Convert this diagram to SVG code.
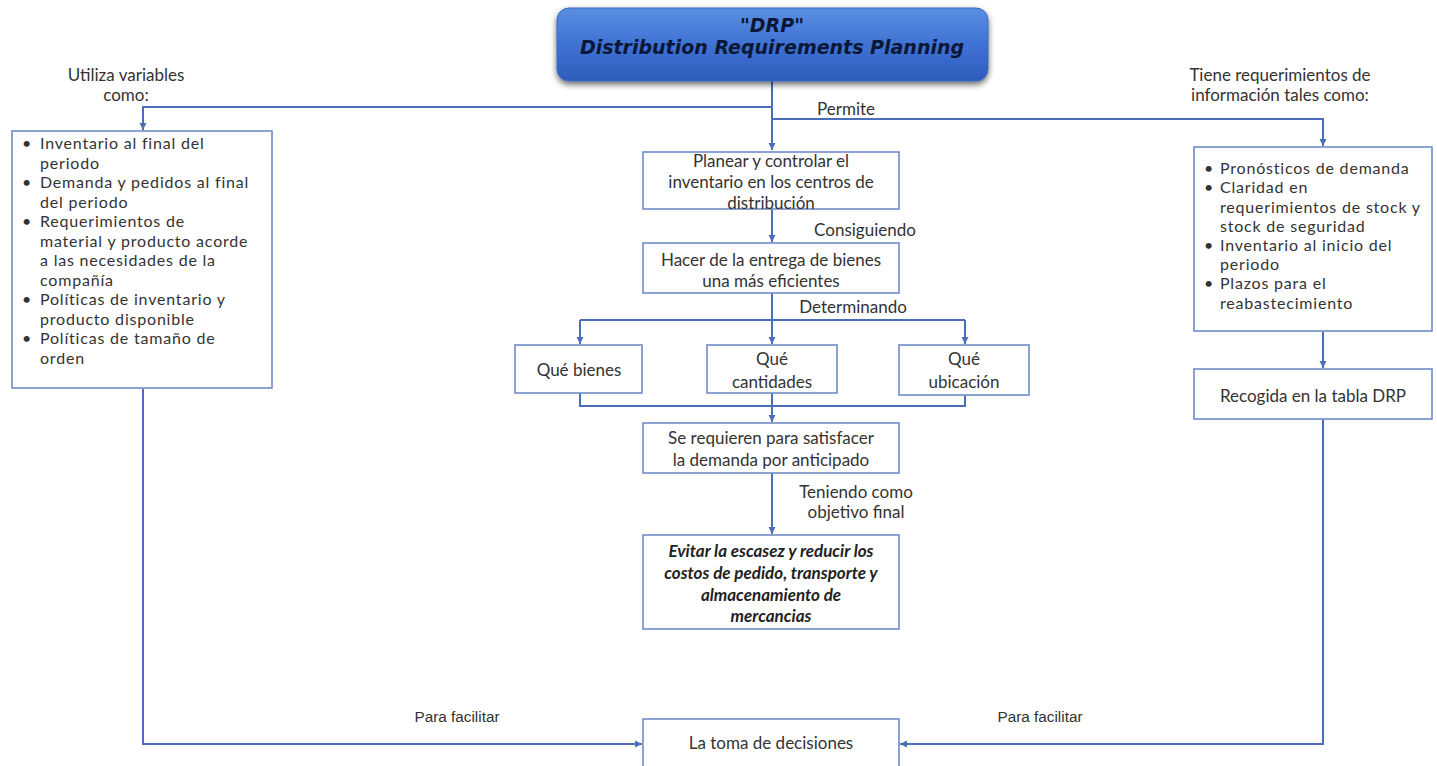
<svg xmlns="http://www.w3.org/2000/svg" width="1437" height="766" viewBox="0 0 1437 766">
<defs>
<linearGradient id="tg" x1="0" y1="0" x2="0" y2="1">
<stop offset="0" stop-color="#5a8fe3"/>
<stop offset="0.5" stop-color="#3f72d3"/>
<stop offset="1" stop-color="#2d5dbd"/>
</linearGradient>
<filter id="sh" x="-10%" y="-20%" width="120%" height="160%">
<feGaussianBlur in="SourceAlpha" stdDeviation="3"/>
<feOffset dx="0" dy="3" result="b"/>
<feComponentTransfer><feFuncA type="linear" slope="0.6"/></feComponentTransfer>
<feMerge><feMergeNode/><feMergeNode in="SourceGraphic"/></feMerge>
</filter>
<marker id="ah" markerWidth="8" markerHeight="8" refX="7" refY="4" orient="auto" markerUnits="userSpaceOnUse">
<path d="M0,0.5 L7,4 L0,7.5 Z" fill="#4a6fb8"/>
</marker>
<style>
.box{fill:#fff;stroke:#6f8cc8;stroke-width:1.6}
.c{fill:none;stroke:#4a6fb8;stroke-width:2}
.t{font-family:Lato,"Open Sans",sans-serif;font-size:17px;fill:#333}
.tb{font-family:Lato,"Open Sans",sans-serif;font-size:16px;letter-spacing:0.8px;fill:#333}
.m{text-anchor:middle}
.it{font-style:italic;font-weight:bold;fill:#222}
.title{font-family:"DejaVu Sans",sans-serif;font-size:19px;font-weight:bold;font-style:italic;fill:#0b1736;text-anchor:middle}
.lbl{font-family:"Liberation Sans Narrow","Liberation Sans",sans-serif;font-size:15.3px;fill:#333;text-anchor:middle}
</style>
</defs>

<g id="connectors">
<path class="c" d="M772 81 V150" marker-end="url(#ah)"/>
<path class="c" d="M772 107 H143 V130" marker-end="url(#ah)"/>
<path class="c" d="M772 119 H1323 V146" marker-end="url(#ah)"/>
<path class="c" d="M772 209 V242" marker-end="url(#ah)"/>
<path class="c" d="M772 293 V344" marker-end="url(#ah)"/>
<path class="c" d="M580 320 H965"/>
<path class="c" d="M580 320 V344" marker-end="url(#ah)"/>
<path class="c" d="M965 320 V344" marker-end="url(#ah)"/>
<path class="c" d="M580 393 V406 H965 V395"/>
<path class="c" d="M772 393 V422" marker-end="url(#ah)"/>
<path class="c" d="M772 473 V534" marker-end="url(#ah)"/>
<path class="c" d="M1323 332 V368" marker-end="url(#ah)"/>
<path class="c" d="M143 389 V744 H642" marker-end="url(#ah)"/>
<path class="c" d="M1323 419 V744 H900" marker-end="url(#ah)"/>
<text class="t" x="817" y="115">Permite</text>
<text class="t m" x="865" y="236">Consiguiendo</text>
<text class="t m" x="853" y="313">Determinando</text>
<text class="t m" x="856" y="498">Teniendo como</text>
<text class="t m" x="856" y="518">objetivo final</text>
<text class="t m" x="126" y="81">Utiliza variables</text>
<text class="t m" x="126" y="101">como:</text>
<text class="t m" x="1280" y="81">Tiene requerimientos de</text>
<text class="t m" x="1280" y="101">información tales como:</text>
<text class="lbl" x="457" y="722">Para facilitar</text>
<text class="lbl" x="1040" y="722">Para facilitar</text>
</g>

<g id="title">
<rect x="557" y="8" width="431" height="73" rx="12" fill="url(#tg)" stroke="#3a68c0" stroke-width="1" filter="url(#sh)"/>
<text class="title" x="772" y="32">"DRP"</text>
<text class="title" x="772" y="54">Distribution Requirements Planning</text>
</g>

<g id="variables">
<rect class="box" x="12" y="131" width="260" height="257"/>
<g class="tb">
<text x="22" y="149">•</text><text x="40" y="149">Inventario al final del</text>
<text x="40" y="168.5">periodo</text>
<text x="22" y="188">•</text><text x="40" y="188">Demanda y pedidos al final</text>
<text x="40" y="207.5">del periodo</text>
<text x="22" y="227">•</text><text x="40" y="227">Requerimientos de</text>
<text x="40" y="246.5">material y producto acorde</text>
<text x="40" y="266">a las necesidades de la</text>
<text x="40" y="285.5">compañía</text>
<text x="22" y="305">•</text><text x="40" y="305">Políticas de inventario y</text>
<text x="40" y="324.5">producto disponible</text>
<text x="22" y="344">•</text><text x="40" y="344">Políticas de tamaño de</text>
<text x="40" y="363.5">orden</text>
</g>
</g>

<g id="planear">
<rect class="box" x="643" y="152" width="256" height="57"/>
<text class="t m" x="771" y="167">Planear y controlar el</text>
<text class="t m" x="771" y="188">inventario en los centros de</text>
<text class="t m" x="771" y="209">distribución</text>
</g>

<g id="hacer">
<rect class="box" x="643" y="243" width="256" height="50"/>
<text class="t m" x="771" y="266">Hacer de la entrega de bienes</text>
<text class="t m" x="771" y="287">una más eficientes</text>
</g>

<g id="bienes">
<rect class="box" x="515" y="345" width="127" height="48"/>
<text class="t m" x="579" y="376">Qué bienes</text>
</g>

<g id="cantidades">
<rect class="box" x="707" y="345" width="130" height="48"/>
<text class="t m" x="772" y="365">Qué</text>
<text class="t m" x="772" y="388">cantidades</text>
</g>

<g id="ubicacion">
<rect class="box" x="899" y="345" width="130" height="50"/>
<text class="t m" x="964" y="365">Qué</text>
<text class="t m" x="964" y="388">ubicación</text>
</g>

<g id="requieren">
<rect class="box" x="643" y="423" width="256" height="50"/>
<text class="t m" x="771" y="444">Se requieren para satisfacer</text>
<text class="t m" x="771" y="466">la demanda por anticipado</text>
</g>

<g id="objetivo">
<rect class="box" x="643" y="535" width="256" height="94"/>
<text class="t m it" x="771" y="557">Evitar la escasez y reducir los</text>
<text class="t m it" x="771" y="579">costos de pedido, transporte y</text>
<text class="t m it" x="771" y="601">almacenamiento de</text>
<text class="t m it" x="771" y="622">mercancias</text>
</g>

<g id="requerimientos">
<rect class="box" x="1194" y="147" width="238" height="184"/>
<g class="tb">
<text x="1204" y="174">•</text><text x="1220" y="174">Pronósticos de demanda</text>
<text x="1204" y="193">•</text><text x="1220" y="193">Claridad en</text>
<text x="1220" y="212.5">requerimientos de stock y</text>
<text x="1220" y="231.5">stock de seguridad</text>
<text x="1204" y="251">•</text><text x="1220" y="251">Inventario al inicio del</text>
<text x="1220" y="270">periodo</text>
<text x="1204" y="289">•</text><text x="1220" y="289">Plazos para el</text>
<text x="1220" y="308.5">reabastecimiento</text>
</g>
</g>

<g id="recogida">
<rect class="box" x="1194" y="369" width="238" height="50"/>
<text class="t m" x="1313" y="402">Recogida en la tabla DRP</text>
</g>

<g id="decisiones">
<rect class="box" x="643" y="719" width="256" height="60"/>
<text class="t m" x="771" y="749">La toma de decisiones</text>
</g>
</svg>
